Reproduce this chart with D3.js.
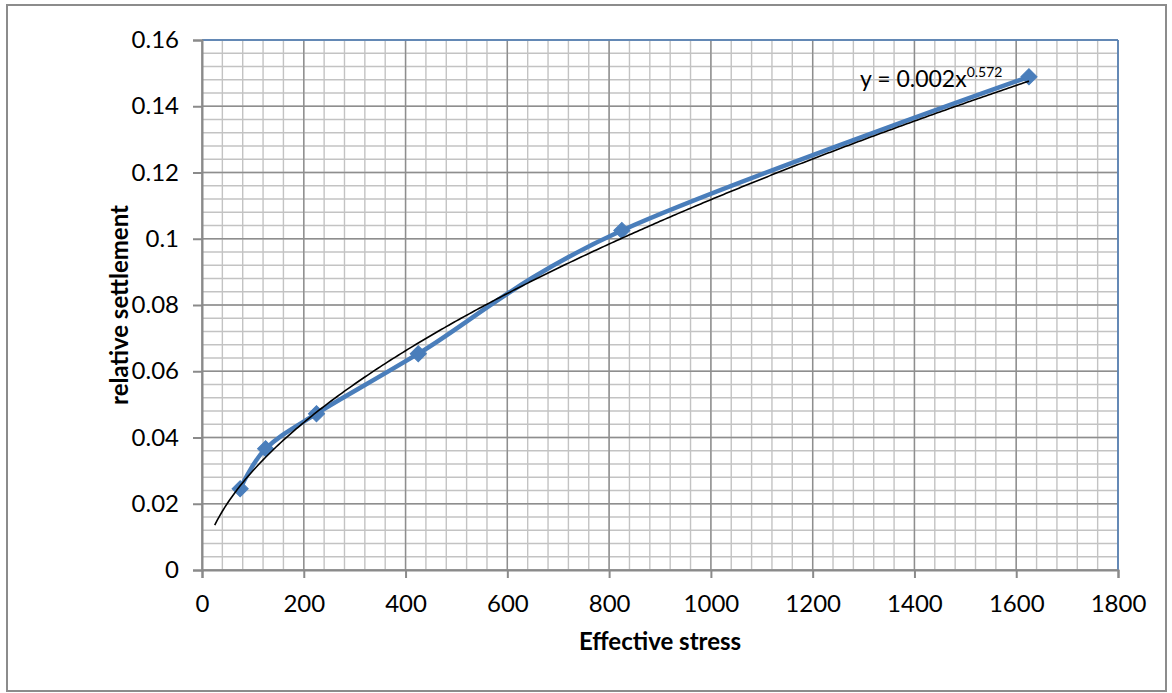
<!DOCTYPE html>
<html>
<head>
<meta charset="utf-8">
<script src="https://cdn.jsdelivr.net/npm/d3@7"></script>
<style>
  html, body { margin: 0; padding: 0; background: #fff; }
  svg { display: block; }
  text { font-family: Lato, "Open Sans", sans-serif; fill: #000; }
</style>
</head>
<body>
<script>
// Measured points: effective stress vs relative settlement
const stress = [75, 125, 225, 425, 825, 1625];
const settlement = [0.0245, 0.0366, 0.0472, 0.0653, 0.1025, 0.1489];

// Power trendline y = a * x^b
const trendCoef = 0.00215;
const trendExp = 0.572;
const trendStart = 25;
const trendEnd = 1625;

const xTicks = [0, 200, 400, 600, 800, 1000, 1200, 1400, 1600, 1800];
const yTicks = [0, 0.02, 0.04, 0.06, 0.08, 0.1, 0.12, 0.14, 0.16];

const W = 1172, H = 693;
const plot = { left: 202, right: 1118, top: 40, bottom: 570 };

const svg = d3.select("body").append("svg").attr("width", W).attr("height", H);

// outer chart frame
svg.append("rect")
  .attr("x", 7).attr("y", 5).attr("width", 1159).attr("height", 686)
  .attr("fill", "#fff").attr("stroke", "#8c8c8c").attr("stroke-width", 2);

const x = d3.scaleLinear().domain([0, 1800]).range([plot.left, plot.right]);
const y = d3.scaleLinear().domain([0, 0.16]).range([plot.bottom, plot.top]);

// minor grid
const g = svg.append("g");
const xMinor = d3.range(0, 1800 + 1, 40);
const yMinor = d3.range(0, 41).map(i => i * 0.004);
g.selectAll(".xm").data(xMinor).join("line")
  .attr("x1", d => x(d)).attr("x2", d => x(d))
  .attr("y1", plot.top).attr("y2", plot.bottom)
  .attr("stroke", "#c3c3c3").attr("stroke-width", 1.4);
g.selectAll(".ym").data(yMinor).join("line")
  .attr("y1", d => y(d)).attr("y2", d => y(d))
  .attr("x1", plot.left).attr("x2", plot.right)
  .attr("stroke", "#c3c3c3").attr("stroke-width", 1.4);
// major grid
g.selectAll(".xM").data(xTicks).join("line")
  .attr("x1", d => x(d)).attr("x2", d => x(d))
  .attr("y1", plot.top).attr("y2", plot.bottom)
  .attr("stroke", "#8e8e8e").attr("stroke-width", 1.4);
g.selectAll(".yM").data(yTicks).join("line")
  .attr("y1", d => y(d)).attr("y2", d => y(d))
  .attr("x1", plot.left).attr("x2", plot.right)
  .attr("stroke", "#8e8e8e").attr("stroke-width", 1.4);

// plot area top/right edges
svg.append("line").attr("x1", plot.left).attr("x2", plot.right)
  .attr("y1", plot.top).attr("y2", plot.top)
  .attr("stroke", "#4f81bd").attr("stroke-width", 1.5);
svg.append("line").attr("x1", plot.right).attr("x2", plot.right)
  .attr("y1", plot.top).attr("y2", plot.bottom)
  .attr("stroke", "#4f81bd").attr("stroke-width", 1.5);

// axes
const xAxis = d3.axisBottom(x).tickValues(xTicks).tickSize(8).tickPadding(17)
  .tickFormat(d3.format("d"));
const yAxis = d3.axisLeft(y).tickValues(yTicks).tickSize(9).tickPadding(14)
  .tickFormat(d => d === 0 ? "0" : String(+d.toFixed(2)));

const gx = svg.append("g").attr("transform", `translate(0,${plot.bottom})`).call(xAxis);
const gy = svg.append("g").attr("transform", `translate(${plot.left},0)`).call(yAxis);
[gx, gy].forEach(a => {
  a.select(".domain").attr("stroke", "#8a8a8a").attr("stroke-width", 2);
  a.selectAll(".tick line").attr("stroke", "#8a8a8a").attr("stroke-width", 2);
  a.selectAll("text").attr("font-family", "Lato, 'Open Sans', sans-serif")
    .attr("font-size", 24).attr("fill", "#000");
});

// series: smoothed line with diamond markers
const pts = stress.map((s, i) => [s, settlement[i]]);
const smooth = d3.line().x(d => x(d[0])).y(d => y(d[1])).curve(d3.curveCardinal.tension(0));
svg.append("path").datum(pts).attr("d", smooth)
  .attr("fill", "none").attr("stroke", "#4a7ebb").attr("stroke-width", 4.5)
  .attr("stroke-linejoin", "round");
const diamond = d3.symbol(d3.symbolSquare, 130);
svg.selectAll(".mk").data(pts).join("path")
  .attr("d", diamond)
  .attr("transform", d => `translate(${x(d[0])},${y(d[1])}) rotate(45)`)
  .attr("fill", "#4a7ebb").attr("stroke", "#4a7ebb").attr("stroke-width", 1);

// power trendline
const line = d3.line().x(d => x(d[0])).y(d => y(d[1]));
const trendPts = d3.range(trendStart, trendEnd + 0.001, 5).map(v => [v, trendCoef * Math.pow(v, trendExp)]);
svg.append("path").datum(trendPts).attr("d", line)
  .attr("fill", "none").attr("stroke", "#000").attr("stroke-width", 1.6);

// trendline equation
const eq = svg.append("text").attr("x", 860).attr("y", 87).attr("font-size", 23);
eq.append("tspan").text(`y = ${d3.format(".3f")(trendCoef)}x`);
eq.append("tspan").attr("dy", -10).attr("font-size", 14).text(d3.format(".3f")(trendExp));

// axis titles
svg.append("text").attr("x", (plot.left + plot.right) / 2).attr("y", 650)
  .attr("text-anchor", "middle").attr("font-weight", "bold").attr("font-size", 24)
  .text("Effective stress");
svg.append("text")
  .attr("transform", `translate(128,${(plot.top + plot.bottom) / 2}) rotate(-90)`)
  .attr("text-anchor", "middle").attr("font-weight", "bold").attr("font-size", 24)
  .text("relative settlement");
</script>
</body>
</html>
